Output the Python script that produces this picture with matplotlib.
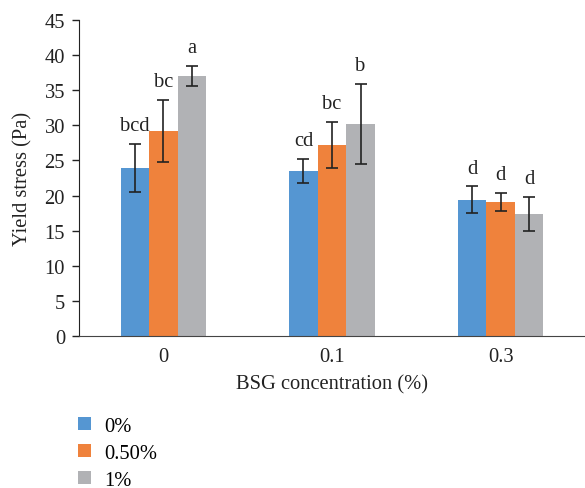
#!/usr/bin/env python3
# coding: utf-8

import matplotlib
matplotlib.use("Agg")
import matplotlib.pyplot as plt
import numpy as np
from matplotlib.patches import Patch

plt.rcParams['font.family'] = ['Liberation Serif', 'DejaVu Serif']

# data
bsg_levels = ['0', '0.1', '0.3']
series_names = ['0%', '0.50%', '1%']
yield_stress = [
    [23.9, 23.5, 19.4],   # 0%
    [29.2, 27.2, 19.1],   # 0.50%
    [37.0, 30.2, 17.4],   # 1%
]
yield_err = [
    [3.4, 1.75, 1.9],
    [4.4, 3.3, 1.3],
    [1.45, 5.7, 2.4],
]
letters = [
    ['bcd', 'cd', 'd'],
    ['bc', 'bc', 'd'],
    ['a', 'b', 'd'],
]
colors = ['#5596d2', '#ef823c', '#b1b2b5']

W, H = 585, 489
fig = plt.figure(figsize=(W / 100, H / 100), dpi=100)
ax = fig.add_axes([79 / W, (H - 337) / H, (W - 79) / W, (337 - 21) / H])

x = np.arange(len(bsg_levels))
width = 0.169
fs = 14.8

for k, name in enumerate(series_names):
    xs = x + (k - 1) * width
    ax.bar(xs, yield_stress[k], width, color=colors[k], label=name, zorder=2)
    ax.errorbar(xs, yield_stress[k], yerr=yield_err[k], fmt='none',
                ecolor='#222222', elinewidth=1.2, capsize=4.5, capthick=1.2, zorder=3)
    for xi, yi, ei, lab in zip(xs, yield_stress[k], yield_err[k], letters[k]):
        ax.annotate(lab, (xi, yi + ei), xytext=(0, 10), textcoords='offset points',
                    ha='center', va='baseline', fontsize=fs, color='#222222')

ax.set_xlim(-0.5, 2.5)
ax.set_ylim(0, 45)
ax.set_yticks(np.arange(0, 46, 5))
ax.set_xticks(x)
ax.set_xticklabels(bsg_levels)

for s in ['top', 'right']:
    ax.spines[s].set_visible(False)
ax.spines['left'].set_color('#222222')
ax.spines['bottom'].set_color('#444444')
ax.tick_params(axis='y', length=5, width=1, color='#222222', labelsize=fs, pad=5, labelcolor='#222222')
ax.tick_params(axis='x', length=0, labelsize=fs, pad=8, labelcolor='#222222')

ax.set_ylabel('Yield stress (Pa)', fontsize=fs, color='#222222', labelpad=9)
ax.set_xlabel('BSG concentration (%)', fontsize=fs, color='#222222', labelpad=6)

handles = [Patch(facecolor=c, edgecolor='none') for c in colors]
fig.legend(handles, series_names, loc='upper left',
           bbox_to_anchor=(72 / W, 1 - 412 / H), frameon=False, fontsize=fs,
           handlelength=0.6, handleheight=0.6, handletextpad=0.65,
           labelspacing=0.38, borderaxespad=0, borderpad=0.3)

plt.savefig('out.png', dpi=100)
